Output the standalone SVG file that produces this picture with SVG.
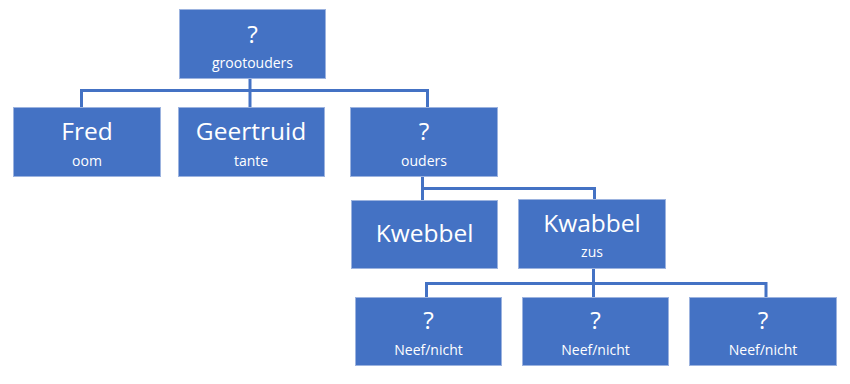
<svg xmlns="http://www.w3.org/2000/svg" width="850" height="384" viewBox="0 0 850 384">
<style>
.box{fill:#4472C4;stroke:#9CB3DF;stroke-width:1}
.big{font-family:"Open Sans","Liberation Sans",sans-serif;font-size:24.5px;fill:#fff;text-anchor:middle}
.small{font-family:"Open Sans","Liberation Sans",sans-serif;font-size:14px;fill:#fff;text-anchor:middle}
.con{fill:none;stroke:#4472C4;stroke-width:3}
</style>
<rect width="850" height="384" fill="#fff"/>
<g id="connectors">
<path class="con" d="M250 78 V107"/>
<path class="con" d="M81.5 107 V90.5 H427.5 V107"/>
<path class="con" d="M422.5 177 V200"/>
<path class="con" d="M422.5 188.5 H594.5 V199"/>
<path class="con" d="M593.5 269 V297"/>
<path class="con" d="M426.5 297 V283.5 H766 V297"/>
</g>
<g id="grootouders">
<rect class="box" x="179.5" y="9.5" width="146" height="69"/>
<text class="big" x="252.5" y="42.5">?</text>
<text class="small" x="252.5" y="68">grootouders</text>
</g>
<g id="fred">
<rect class="box" x="13.5" y="107.5" width="147" height="69"/>
<text class="big" x="87" y="140">Fred</text>
<text class="small" x="87" y="166">oom</text>
</g>
<g id="geertruid">
<rect class="box" x="178.5" y="107.5" width="146" height="69"/>
<text class="big" x="251" y="140">Geertruid</text>
<text class="small" x="251" y="166">tante</text>
</g>
<g id="ouders">
<rect class="box" x="350.5" y="107.5" width="147" height="69"/>
<text class="big" x="424" y="140">?</text>
<text class="small" x="424" y="166">ouders</text>
</g>
<g id="kwebbel">
<rect class="box" x="351.5" y="200.5" width="146" height="68"/>
<text class="big" x="424.5" y="241.7">Kwebbel</text>
</g>
<g id="kwabbel">
<rect class="box" x="518.5" y="199.5" width="147" height="69"/>
<text class="big" x="592" y="231.7">Kwabbel</text>
<text class="small" x="592" y="257.3">zus</text>
</g>
<g id="neef1">
<rect class="box" x="355.5" y="297.5" width="146" height="68"/>
<text class="big" x="428.5" y="329">?</text>
<text class="small" x="428.5" y="355">Neef/nicht</text>
</g>
<g id="neef2">
<rect class="box" x="522.5" y="297.5" width="146" height="68"/>
<text class="big" x="595.5" y="329">?</text>
<text class="small" x="595.5" y="355">Neef/nicht</text>
</g>
<g id="neef3">
<rect class="box" x="689.5" y="297.5" width="147" height="68"/>
<text class="big" x="763" y="329">?</text>
<text class="small" x="763" y="355">Neef/nicht</text>
</g>
</svg>
